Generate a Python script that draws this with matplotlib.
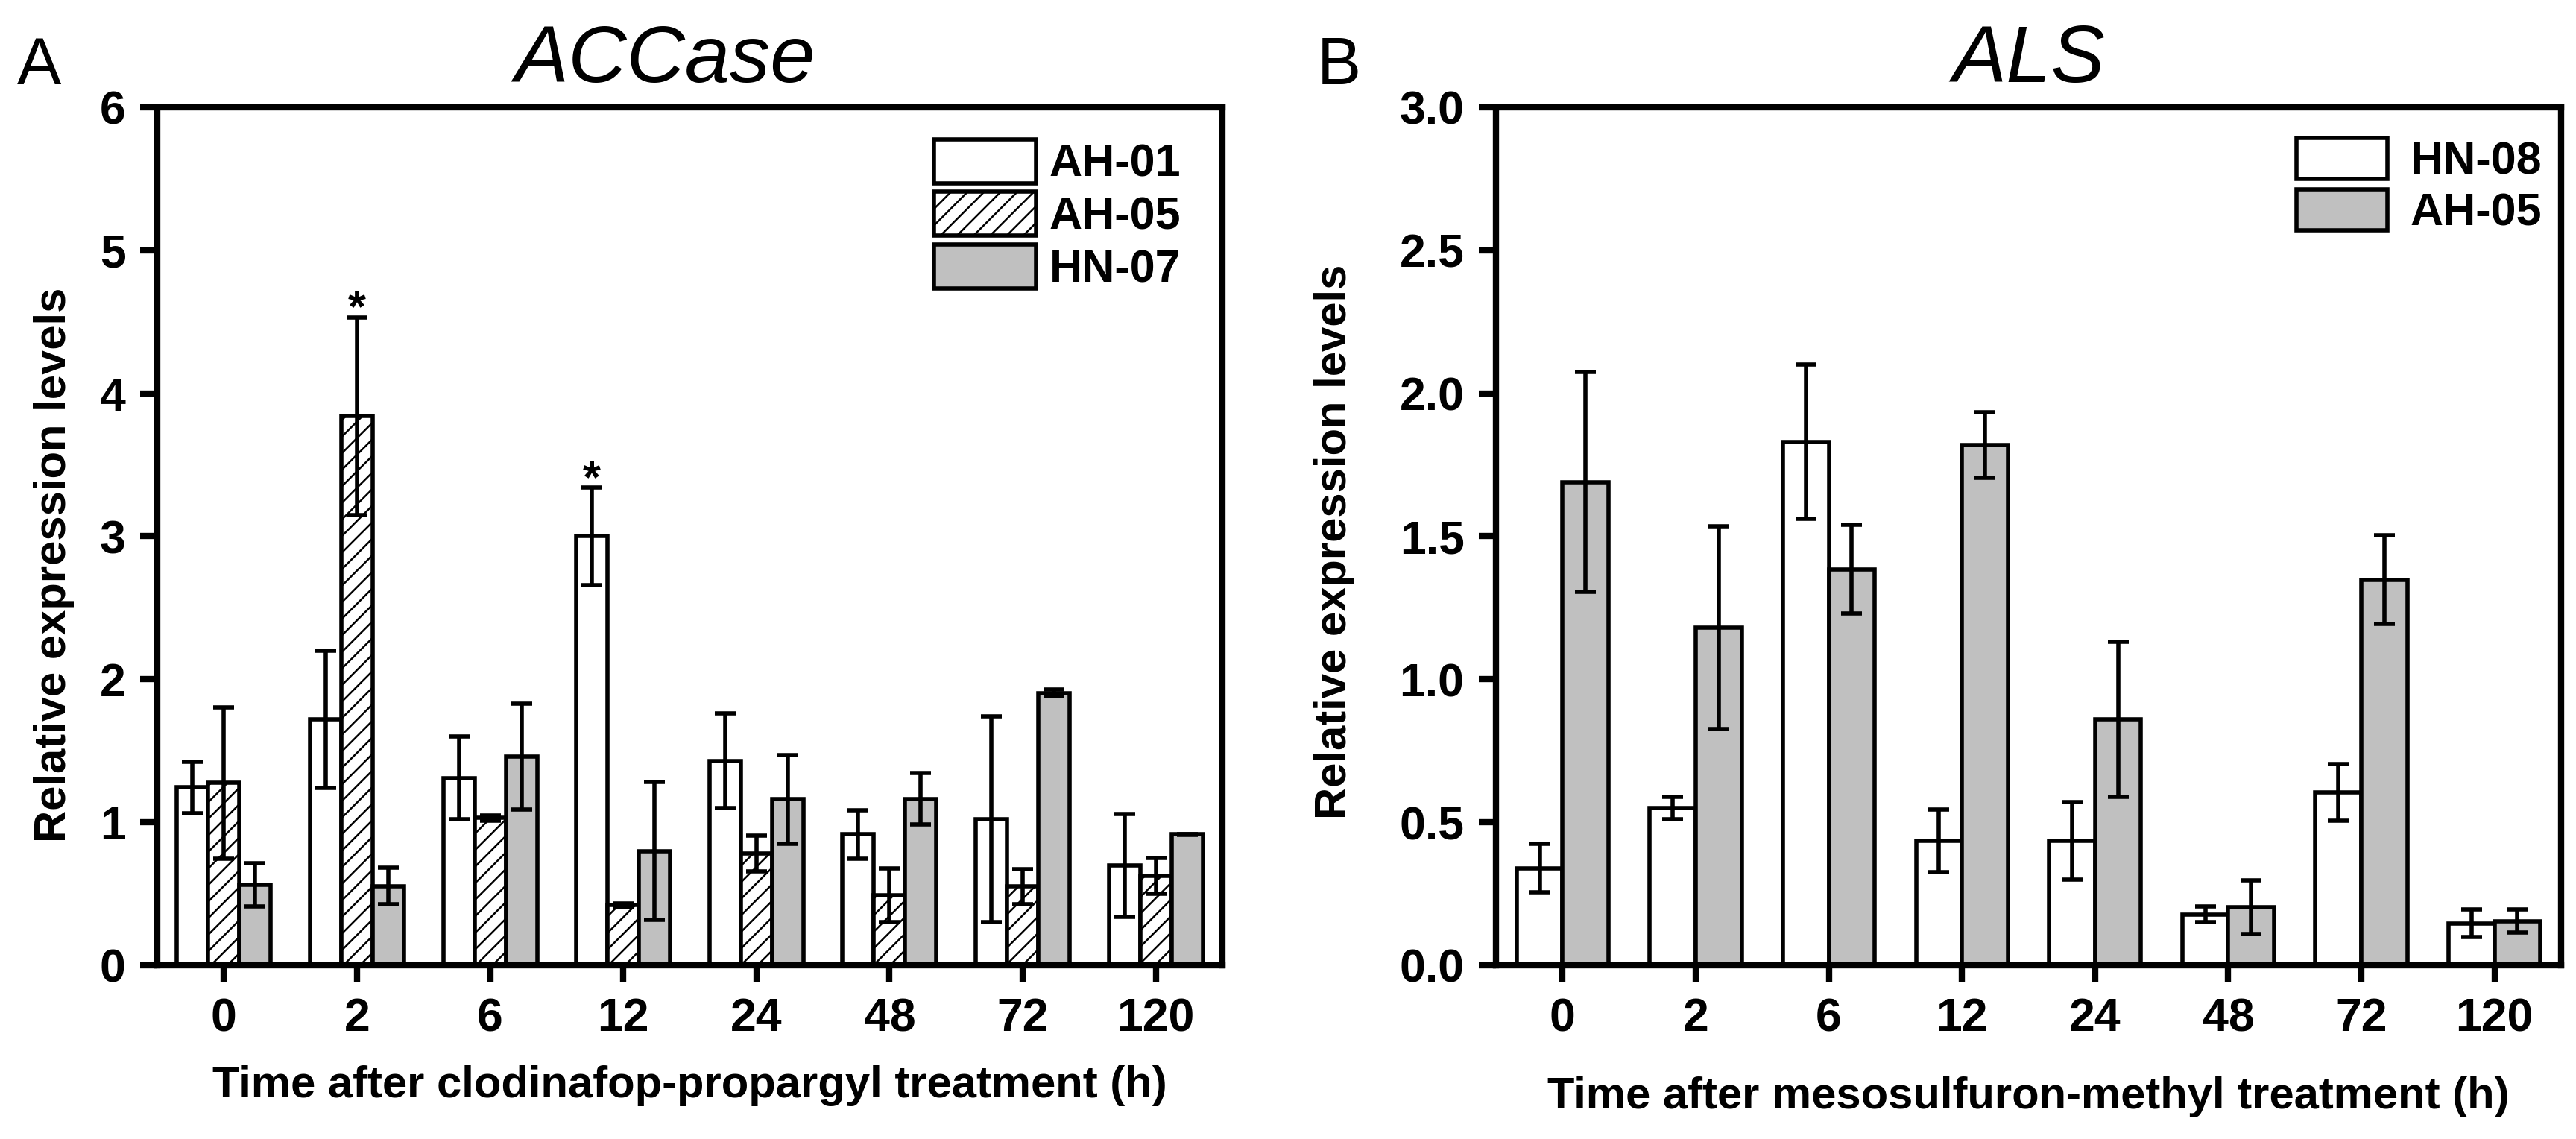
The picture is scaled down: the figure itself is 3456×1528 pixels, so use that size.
import matplotlib
matplotlib.use('Agg')
import matplotlib.pyplot as plt
from matplotlib.patches import Patch
import numpy as np

plt.rcParams['font.family'] = ['Liberation Sans', 'DejaVu Sans']
plt.rcParams['hatch.linewidth'] = 0.9

# ---------------- data ----------------
times = ['0', '2', '6', '12', '24', '48', '72', '120']

# Panel A: ACCase (clodinafop-propargyl)
accase_ah01 = [1.245, 1.72, 1.31, 3.00, 1.43, 0.915, 1.02, 0.70]
accase_ah01_sd = [0.18, 0.48, 0.29, 0.34, 0.33, 0.17, 0.72, 0.36]
accase_ah05 = [1.276, 3.84, 1.03, 0.42, 0.78, 0.49, 0.55, 0.625]
accase_ah05_sd = [0.53, 0.69, 0.02, 0.015, 0.125, 0.19, 0.125, 0.125]
accase_hn07 = [0.564, 0.555, 1.46, 0.80, 1.16, 1.165, 1.905, 0.915]
accase_hn07_sd = [0.15, 0.13, 0.37, 0.48, 0.31, 0.18, 0.025, 0.005]
accase_labels = ['AH-01', 'AH-05', 'HN-07']
# significance stars: (time index, series index)
accase_stars = [(1, 1), (3, 0)]

# Panel B: ALS (mesosulfuron-methyl)
als_hn08 = [0.34, 0.55, 1.83, 0.435, 0.435, 0.178, 0.605, 0.147]
als_hn08_sd = [0.085, 0.04, 0.27, 0.11, 0.135, 0.028, 0.10, 0.048]
als_ah05 = [1.69, 1.18, 1.385, 1.82, 0.86, 0.203, 1.348, 0.155]
als_ah05_sd = [0.385, 0.355, 0.155, 0.115, 0.27, 0.093, 0.155, 0.04]
als_labels = ['HN-08', 'AH-05']

accase_yticks = [0, 1, 2, 3, 4, 5, 6]
als_yticks = [0.0, 0.5, 1.0, 1.5, 2.0, 2.5, 3.0]

GRAY = '#C0C0C0'
EDGE_LW = 2.0
TICK_FS = 22.5
LABEL_FS = 21.5

fig = plt.figure(figsize=(17.28, 7.64), dpi=200)
axA = fig.add_axes([0.06105, 0.15249, 0.41348, 0.75327])
axB = fig.add_axes([0.58073, 0.15249, 0.41348, 0.75327])


def style_axes(ax, yticks, ylabels):
    for sp in ax.spines.values():
        sp.set_linewidth(3.0)
        sp.set_zorder(5)
    ax.tick_params(axis='both', direction='out', length=8.3, width=3.0, pad=7)
    x = np.arange(len(times))
    ax.set_xticks(x, labels=times, fontsize=TICK_FS, fontweight='bold')
    ax.set_yticks(yticks, labels=ylabels, fontsize=TICK_FS, fontweight='bold')
    ax.set_xlim(-0.5, len(times) - 0.5)
    ax.set_ylim(yticks[0], yticks[-1])


x = np.arange(len(times))

# ---------- Panel A ----------
wA = 0.235
seriesA = [(accase_ah01, accase_ah01_sd, dict(facecolor='white', hatch=None)),
           (accase_ah05, accase_ah05_sd, dict(facecolor='white', hatch='///')),
           (accase_hn07, accase_hn07_sd, dict(facecolor=GRAY, hatch=None))]
offsA = [-wA, 0.0, wA]
for (vals, sd, st), off in zip(seriesA, offsA):
    axA.bar(x + off, vals, width=wA, edgecolor='black', linewidth=EDGE_LW,
            facecolor=st['facecolor'], hatch=st['hatch'], zorder=2)
    axA.errorbar(x + off, vals, yerr=sd, fmt='none', ecolor='black',
                 elinewidth=EDGE_LW, capsize=5, capthick=EDGE_LW, zorder=3)
for ti, si in accase_stars:
    vals, sd, _ = seriesA[si]
    axA.annotate('*', xy=(x[ti] + offsA[si], vals[ti] + sd[ti]), xytext=(0, -2),
                 textcoords='offset points', ha='center', va='baseline',
                 fontsize=22, fontweight='bold', zorder=4)

style_axes(axA, accase_yticks, [str(v) for v in accase_yticks])
axA.set_xlabel('Time after clodinafop-propargyl treatment (h)', fontsize=LABEL_FS,
               fontweight='bold')
axA.set_ylabel('Relative expression levels', fontsize=LABEL_FS, fontweight='bold')
axA.xaxis.set_label_coords(0.5, -0.1164)
axA.yaxis.set_label_coords(-0.0777, 0.4666)
axA.text(0.4766, 1 + 34 / 1151, 'ACCase', transform=axA.transAxes, ha='center',
         va='baseline', fontsize=39, style='italic')

handlesA = [Patch(facecolor='white', edgecolor='black', linewidth=EDGE_LW, label=accase_labels[0]),
            Patch(facecolor='white', edgecolor='black', linewidth=EDGE_LW, hatch='///', label=accase_labels[1]),
            Patch(facecolor=GRAY, edgecolor='black', linewidth=EDGE_LW, label=accase_labels[2])]
axA.legend(handles=handlesA, loc='upper left', bbox_to_anchor=(0.729, 0.963),
           frameon=False, borderpad=0, borderaxespad=0, handlelength=2.24,
           handleheight=1.11, labelspacing=0.12, handletextpad=0.3,
           prop={'weight': 'bold', 'size': 22})

# ---------- Panel B ----------
wB = 0.345
seriesB = [(als_hn08, als_hn08_sd, 'white'), (als_ah05, als_ah05_sd, GRAY)]
offsB = [-wB / 2, wB / 2]
for (vals, sd, fc), off in zip(seriesB, offsB):
    axB.bar(x + off, vals, width=wB, edgecolor='black', linewidth=EDGE_LW,
            facecolor=fc, zorder=2)
    axB.errorbar(x + off, vals, yerr=sd, fmt='none', ecolor='black',
                 elinewidth=EDGE_LW, capsize=5, capthick=EDGE_LW, zorder=3)

style_axes(axB, als_yticks, ['%.1f' % v for v in als_yticks])
axB.set_xlabel('Time after mesosulfuron-methyl treatment (h)', fontsize=LABEL_FS,
               fontweight='bold')
axB.set_ylabel('Relative expression levels', fontsize=LABEL_FS, fontweight='bold')
axB.xaxis.set_label_coords(0.5, -0.1294)
axB.yaxis.set_label_coords(-0.1323, 0.4935)
axB.text(0.5, 1 + 34 / 1151, 'ALS', transform=axB.transAxes, ha='center',
         va='baseline', fontsize=39, style='italic')

handlesB = [Patch(facecolor='white', edgecolor='black', linewidth=EDGE_LW, label=als_labels[0]),
            Patch(facecolor=GRAY, edgecolor='black', linewidth=EDGE_LW, label=als_labels[1])]
axB.legend(handles=handlesB, loc='upper left', bbox_to_anchor=(0.7516, 0.964),
           frameon=False, borderpad=0, borderaxespad=0, handlelength=2.0,
           handleheight=1.0, labelspacing=0.12, handletextpad=0.5,
           prop={'weight': 'bold', 'size': 22})

# panel letters
fig.text(23 / 3456, 1 - 113 / 1528, 'A', ha='left', va='baseline', fontsize=32)
fig.text(1767 / 3456, 1 - 113 / 1528, 'B', ha='left', va='baseline', fontsize=32)

fig.savefig('out.png', dpi=200)
